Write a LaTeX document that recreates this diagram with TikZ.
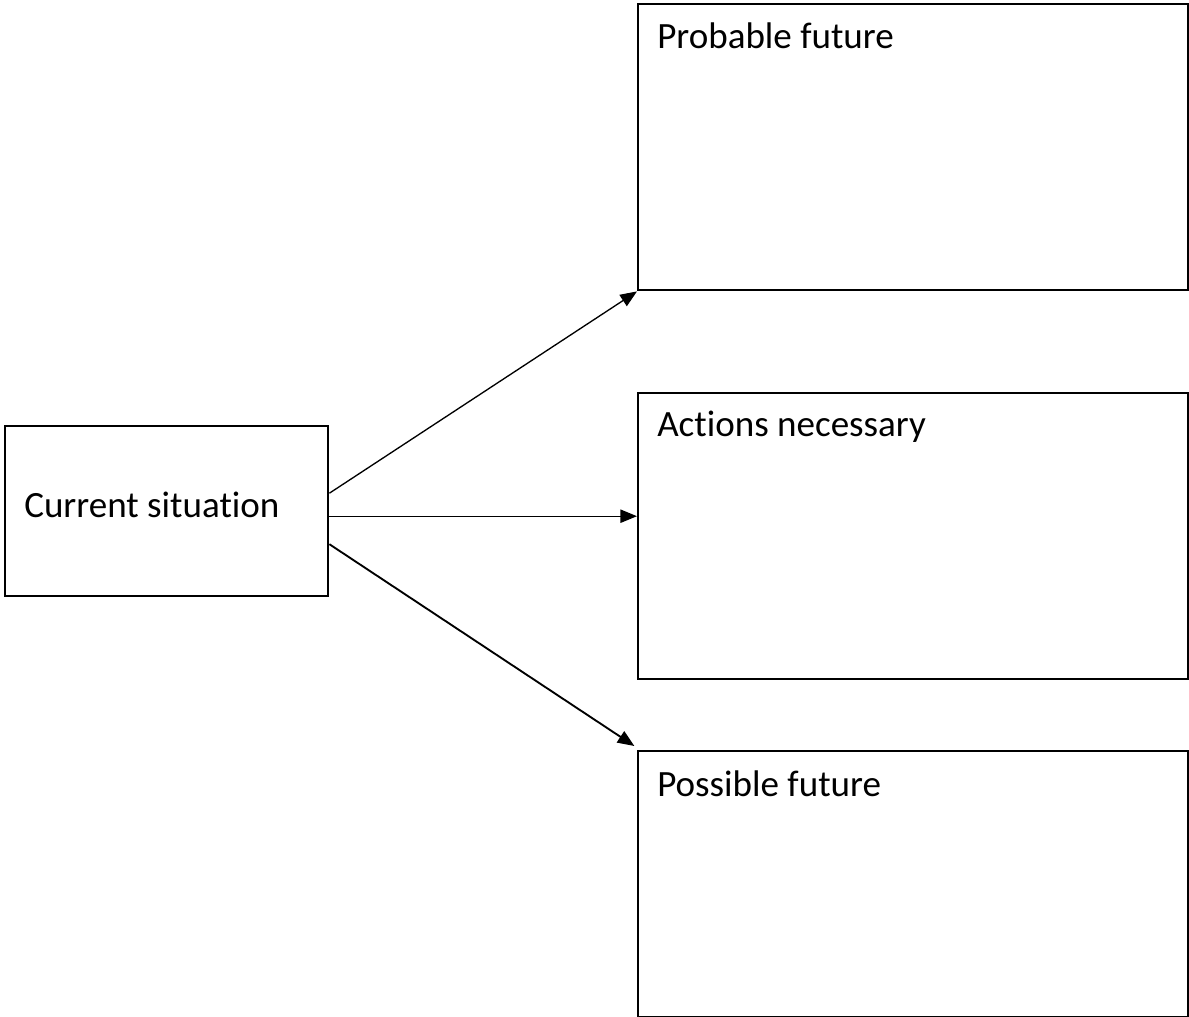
\documentclass[tikz,border=0pt]{standalone}
\usepackage{fontspec}
\setmainfont[Ligatures={NoCommon}]{Carlito}
\usetikzlibrary{arrows.meta}
\begin{document}
\begin{tikzpicture}[x=0.75pt,y=-0.75pt,
  box/.style={draw=black,line width=1.8pt,rectangle,inner sep=0pt,anchor=north west},
  lbl/.style={anchor=base west,inner sep=0pt,font=\fontsize{27.8pt}{33pt}\selectfont},
  conn/.style={line width=1pt,-{Triangle[length=12.5pt,width=10pt]}}]
\useasboundingbox[fill=white] (0,0) rectangle (1189,1017);
\node[box,minimum width=323*0.75pt,minimum height=170*0.75pt] (cur) at (4,425) {};
\node[box,minimum width=550*0.75pt,minimum height=286*0.75pt] (prob) at (637,3) {};
\node[box,minimum width=550*0.75pt,minimum height=286*0.75pt] (act) at (637,392) {};
\node[box,minimum width=550*0.75pt,minimum height=266*0.75pt] (poss) at (637,750) {};
\node[lbl] (curl) at (24,517) {Current situation};
\node[lbl] (probl) at (657,48) {Probable future};
\node[lbl] (actl) at (657,436) {Actions necessary};
\node[lbl] (possl) at (657,796) {Possible future};
\coordinate (s1) at ([yshift=13.5pt]cur.east);
\coordinate (s2) at ([yshift=-3.75pt]cur.east);
\coordinate (s3) at ([yshift=-24.75pt]cur.east);
\draw[conn] (s1) -- (prob.south west);
\draw[conn] (s2) -- (act.west |- s2);
\draw[conn,line width=1.4pt] (s3) -- ([xshift=-2pt,yshift=3pt]poss.north west);
\end{tikzpicture}
\end{document}
